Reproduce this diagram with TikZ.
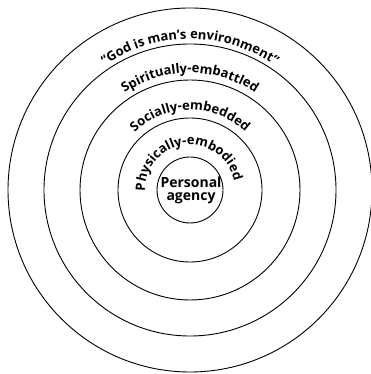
\documentclass[tikz,border=0pt]{standalone}
\usepackage{fontspec}
\setsansfont{Open Sans}
\usetikzlibrary{decorations.text}

\newcommand\ringfont{\sffamily\bfseries\fontsize{13}{14}\selectfont}
\newcommand\corefont{\sffamily\bfseries\fontsize{14}{13}\selectfont}

\tikzset{
  ring/.style={circle, draw, line width=0.9pt, minimum size=#1, inner sep=0pt},
  ringlabel/.style={decorate, decoration={text along path, text align=center, text={|\ringfont|#1}}}
}

\begin{document}
\begin{tikzpicture}[x=1pt,y=1pt]
  \useasboundingbox (0,0) rectangle (370,374);
  \coordinate (c) at (190,184);
  % rings, outermost first
  \node[ring=364pt] (god) at (c) {};
  \node[ring=292pt] (spirit) at (c) {};
  \node[ring=220pt] (social) at (c) {};
  \node[ring=144pt] (body) at (c) {};
  \node[ring=66pt] (self) at (c) {};
  \node[align=center, font=\corefont, inner sep=0pt] (agency) at ([xshift=1pt]c) {Personal\\agency};
  % labels along the rings
  \path[ringlabel={Physically-embodied}] ([shift={(c)}]187:45) arc[start angle=187, end angle=6, radius=45];
  \path[ringlabel={Socially-embedded}] ([shift={(c)}]170:80) arc[start angle=170, end angle=10, radius=80];
  \path[ringlabel={Spiritually-embattled}] ([shift={(c)}]170:117) arc[start angle=170, end angle=10, radius=117];
  \path[ringlabel={“God is man’s environment”}] ([shift={(c)}]170:151) arc[start angle=170, end angle=10, radius=151];
\end{tikzpicture}
\end{document}
